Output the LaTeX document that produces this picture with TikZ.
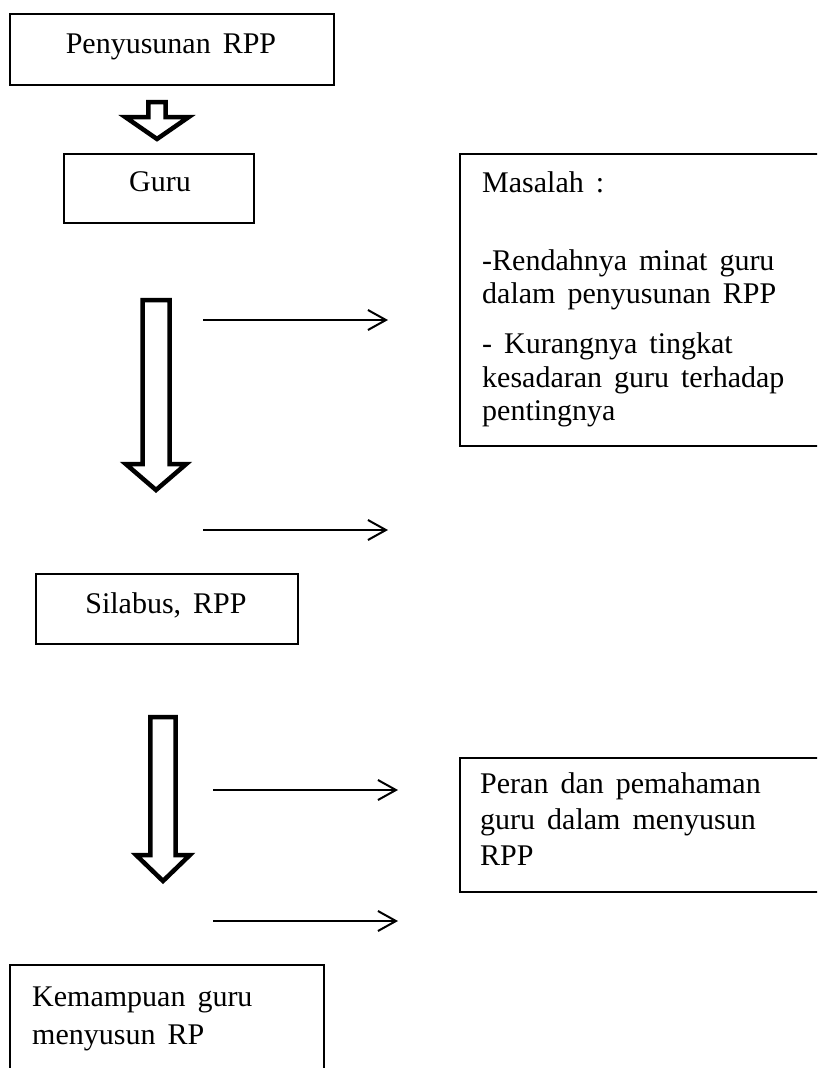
\documentclass[tikz,border=0pt]{standalone}
\usepackage{fontspec}
\setmainfont{Liberation Serif}[WordSpace=1.6]
\usetikzlibrary{arrows.meta}
\newcommand\blkarrow[6]{%
  \draw[blockarr] (#1-#3,#2) -- (#1+#3,#2) -- (#1+#3,#4) -- (#1+#5,#4) -- (#1,#6)
    -- (#1-#5,#4) -- (#1-#3,#4) -- cycle;}
\begin{document}
\begin{tikzpicture}[x=1pt,y=-1pt,
  box/.style={draw, line width=1.7pt, inner sep=0pt, anchor=north west},
  txt/.style={inner sep=0pt, font=\fontsize{30}{34}\selectfont},
  lt/.style={txt, anchor=base west},
  ct/.style={txt, anchor=base},
  blockarr/.style={draw, line width=4.5pt, line join=miter, miter limit=10, fill=white},
  conn/.style={line width=2pt, -{Straight Barb[length=18pt,width=20pt]}}]
\useasboundingbox (0,0) rectangle (817,1068);
\clip (0,0) rectangle (817,1068);

% boxes
\node[box, minimum width=324pt, minimum height=71pt] (top) at (8.8,12.8) {};
\node[box, minimum width=190pt, minimum height=69pt] (guru) at (62.8,152.8) {};
\node[box, minimum width=420pt, minimum height=292pt] (masalah) at (458.8,152.8) {};
\node[box, minimum width=262pt, minimum height=70pt] (silabus) at (34.8,572.8) {};
\node[box, minimum width=420pt, minimum height=134pt] (peran) at (458.8,756.8) {};
\node[box, minimum width=314pt, minimum height=160pt] (kemampuan) at (8.8,963.8) {};

% texts
\node[ct] (ttop) at (171,53) {Penyusunan RPP};
\node[ct] (tguru) at (160,191) {Guru};
\node[ct] (tsilabus) at (166,613) {Silabus, RPP};

\node[lt] (m1) at (482,192) {Masalah :};
\node[lt] (m2) at (482,270) {-Rendahnya minat guru};
\node[lt] (m3) at (482,303.5) {dalam penyusunan RPP};
\node[lt] (m4) at (482,353) {- Kurangnya tingkat};
\node[lt] (m5) at (482,387) {kesadaran guru terhadap};
\node[lt] (m6) at (482,420) {pentingnya};

\node[lt] (p1) at (480,793) {Peran dan pemahaman};
\node[lt] (p2) at (480,829) {guru dalam menyusun};
\node[lt] (p3) at (480,865) {RPP};

\node[lt] (k1) at (32,1006) {Kemampuan guru};
\node[lt] (k2) at (32,1044) {menyusun RP};

% block arrows
\blkarrow{157}{102.2}{8.7}{117.2}{31.5}{139}
\blkarrow{156}{300.2}{13.5}{464.2}{30}{490}
\blkarrow{163}{717.2}{12.7}{855.2}{26.7}{881}

% thin arrows
\coordinate (a1s) at (203,320); \coordinate (a1e) at (388,320);
\coordinate (a2s) at (203,530); \coordinate (a2e) at (388,530);
\coordinate (a3s) at (213,790); \coordinate (a3e) at (398,790);
\coordinate (a4s) at (213,921); \coordinate (a4e) at (398,921);
\draw[conn] (a1s) -- (a1e);
\draw[conn] (a2s) -- (a2e);
\draw[conn] (a3s) -- (a3e);
\draw[conn] (a4s) -- (a4e);
\end{tikzpicture}
\end{document}
